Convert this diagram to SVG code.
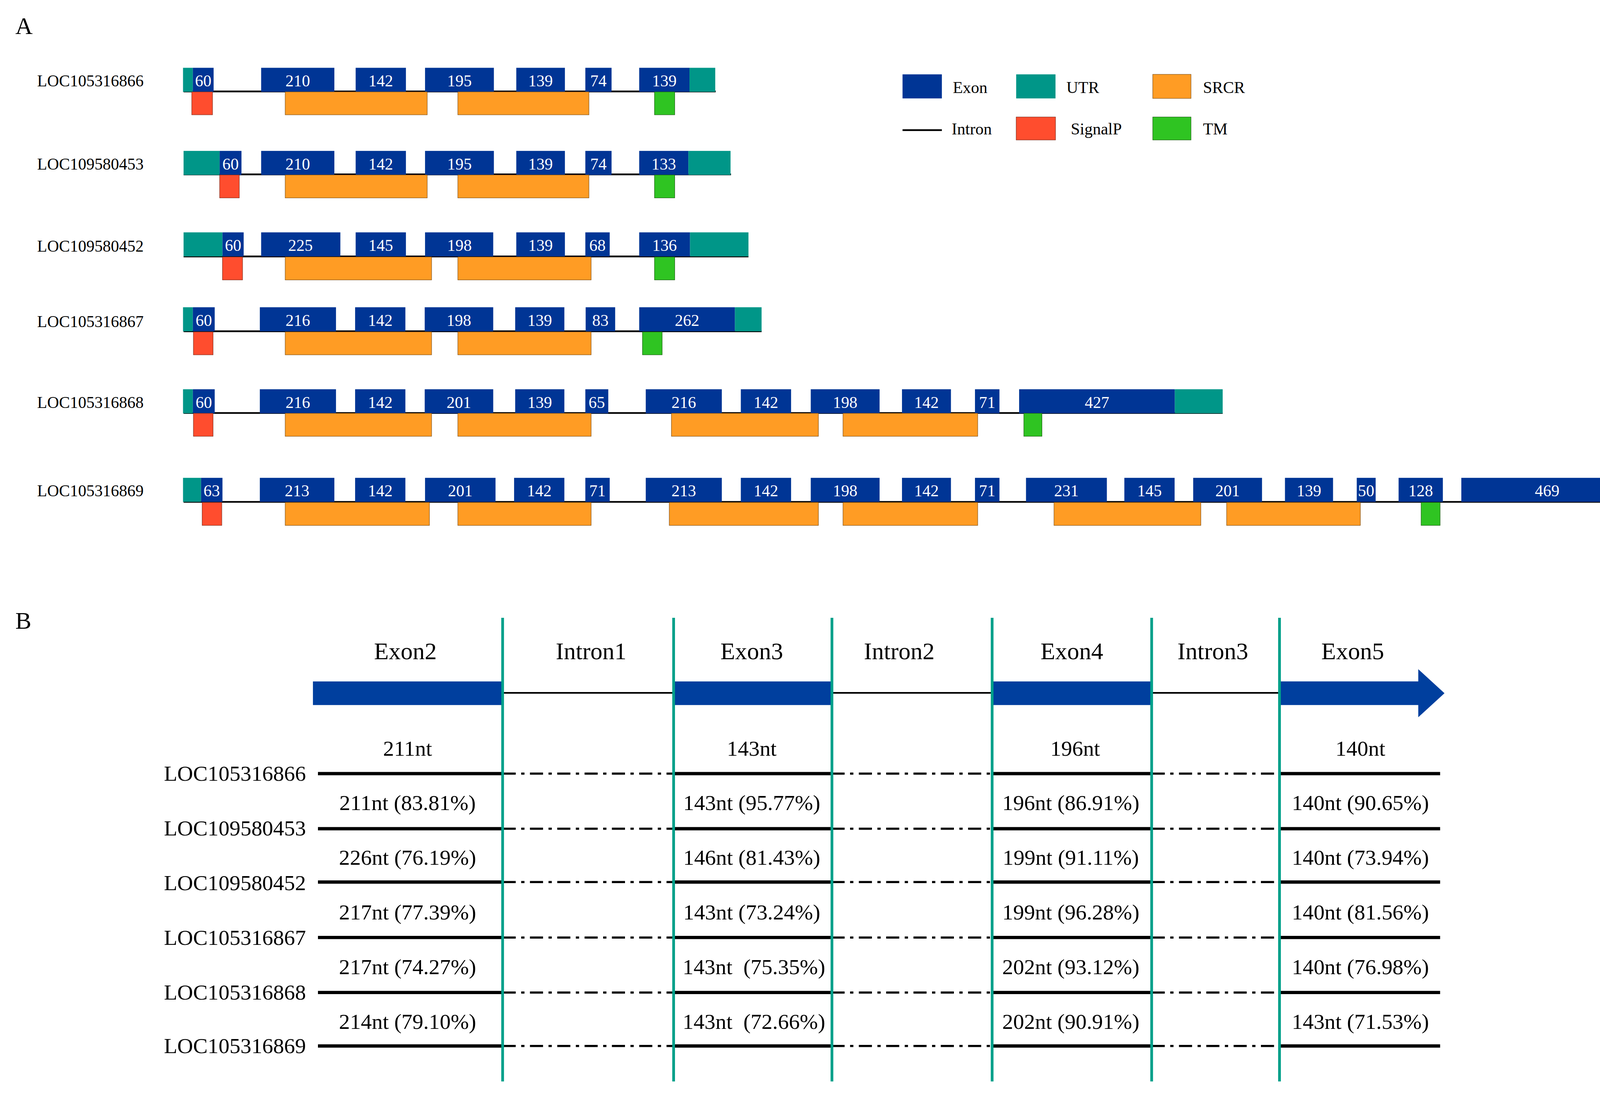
<svg xmlns="http://www.w3.org/2000/svg" width="4386" height="2815" viewBox="0 0 4386 2815">
<style>
text{font-family:"Liberation Serif","Times New Roman",serif;fill:#000}
.ex{fill:#003595}
.ut{fill:#009688}
.sp{fill:#ff4d2e;stroke:#7a2a1a;stroke-width:0.4}
.sr{fill:#ff9c24;stroke:#7a4a10;stroke-width:0.4}
.tm{fill:#2fc422;stroke:#1a5a10;stroke-width:0.4}
.in{stroke:#000;stroke-width:1.6}
.n{fill:#fff;font-size:15px;text-anchor:middle}
.lb{font-size:15px}
.lg{font-size:15px}
.h{font-size:22px;text-anchor:middle}
.p{font-size:20px;text-anchor:middle}
.bl{font-size:20px;text-anchor:end}
.sol{stroke:#000;stroke-width:3}
.dd{stroke:#000;stroke-width:2;stroke-dasharray:12,5,3,5}
.tl{stroke:#00a08a;stroke-width:2.5}
</style>
<rect width="4386" height="2815" fill="#fff"/>
<g transform="scale(2.7972,2.7982)">
<text x="14" y="31" font-size="22">A</text>
<g id="legend">
<rect class="ex" x="826" y="68" width="36" height="22"/><text class="lg" x="872" y="85">Exon</text>
<rect class="ut" x="930" y="68" width="36" height="22"/><text class="lg" x="976" y="85">UTR</text>
<rect class="sr" x="1055" y="68" width="35" height="22"/><text class="lg" x="1101" y="85">SRCR</text>
<line class="in" x1="826" y1="119" x2="862" y2="119"/><text class="lg" x="871" y="123">Intron</text>
<rect class="sp" x="930" y="107" width="36" height="21"/><text class="lg" x="980" y="123">SignalP</text>
<rect class="tm" x="1055" y="107" width="35" height="21"/><text class="lg" x="1101" y="123">TM</text>
</g>
<g id="row1">
<text class="lb" x="34" y="79">LOC105316866</text>
<line class="in" x1="168" y1="83.6" x2="655" y2="83.6"/>
<rect class="ut" x="167.5" y="62" width="9" height="22"/>
<rect class="ex" x="176.5" y="62" width="19" height="22"/><text class="n" x="186" y="79">60</text>
<rect class="ex" x="239" y="62" width="67" height="22"/><text class="n" x="272.5" y="79">210</text>
<rect class="ex" x="325.5" y="62" width="46" height="22"/><text class="n" x="348.5" y="79">142</text>
<rect class="ex" x="389" y="62" width="63" height="22"/><text class="n" x="420.5" y="79">195</text>
<rect class="ex" x="472.5" y="62" width="44.5" height="22"/><text class="n" x="494.7" y="79">139</text>
<rect class="ex" x="535.7" y="62" width="24" height="22"/><text class="n" x="547.7" y="79">74</text>
<rect class="ex" x="585" y="62" width="46" height="22"/><text class="n" x="608" y="79">139</text>
<rect class="ut" x="631" y="62" width="23.6" height="22"/>
<rect class="sp" x="175.5" y="84" width="19" height="21"/>
<rect class="sr" x="261" y="84" width="130" height="21"/>
<rect class="sr" x="419" y="84" width="120" height="21"/>
<rect class="tm" x="599" y="84" width="18.5" height="21"/>
</g>
<g id="row2">
<text class="lb" x="34" y="155">LOC109580453</text>
<line class="in" x1="168" y1="159.5" x2="669" y2="159.5"/>
<rect class="ut" x="168" y="138" width="33" height="22"/>
<rect class="ex" x="201" y="138" width="20" height="22"/><text class="n" x="211" y="155">60</text>
<rect class="ex" x="239" y="138" width="67" height="22"/><text class="n" x="272.5" y="155">210</text>
<rect class="ex" x="325.5" y="138" width="46" height="22"/><text class="n" x="348.5" y="155">142</text>
<rect class="ex" x="389" y="138" width="63" height="22"/><text class="n" x="420.5" y="155">195</text>
<rect class="ex" x="472.5" y="138" width="44.5" height="22"/><text class="n" x="494.7" y="155">139</text>
<rect class="ex" x="535.7" y="138" width="24" height="22"/><text class="n" x="547.7" y="155">74</text>
<rect class="ex" x="585" y="138" width="45" height="22"/><text class="n" x="607.5" y="155">133</text>
<rect class="ut" x="630" y="138" width="38.6" height="22"/>
<rect class="sp" x="201" y="160" width="18" height="21"/>
<rect class="sr" x="261" y="160" width="130" height="21"/>
<rect class="sr" x="419" y="160" width="120" height="21"/>
<rect class="tm" x="599" y="160" width="18.5" height="21"/>
</g>
<g id="row3">
<text class="lb" x="34" y="230">LOC109580452</text>
<line class="in" x1="168" y1="234.5" x2="685" y2="234.5"/>
<rect class="ut" x="168" y="212.5" width="35.6" height="22"/>
<rect class="ex" x="203.6" y="212.5" width="19.4" height="22"/><text class="n" x="213.3" y="229.5">60</text>
<rect class="ex" x="239" y="212.5" width="72.5" height="22"/><text class="n" x="275" y="229.5">225</text>
<rect class="ex" x="325.5" y="212.5" width="46" height="22"/><text class="n" x="348.5" y="229.5">145</text>
<rect class="ex" x="389" y="212.5" width="62.4" height="22"/><text class="n" x="420.5" y="229.5">198</text>
<rect class="ex" x="472.5" y="212.5" width="44.5" height="22"/><text class="n" x="494.7" y="229.5">139</text>
<rect class="ex" x="535.7" y="212.5" width="22.3" height="22"/><text class="n" x="546.8" y="229.5">68</text>
<rect class="ex" x="585" y="212.5" width="46.5" height="22"/><text class="n" x="608.2" y="229.5">136</text>
<rect class="ut" x="631.5" y="212.5" width="53.5" height="22"/>
<rect class="sp" x="203.6" y="235" width="18.4" height="21"/>
<rect class="sr" x="261" y="235" width="134" height="21"/>
<rect class="sr" x="419" y="235" width="122" height="21"/>
<rect class="tm" x="599" y="235" width="18.5" height="21"/>
</g>
<g id="row4">
<text class="lb" x="34" y="299">LOC105316867</text>
<line class="in" x1="168" y1="303" x2="697" y2="303"/>
<rect class="ut" x="167.5" y="281" width="9" height="22"/>
<rect class="ex" x="176.5" y="281" width="20" height="22"/><text class="n" x="186.5" y="298">60</text>
<rect class="ex" x="237.8" y="281" width="69.7" height="22"/><text class="n" x="272.6" y="298">216</text>
<rect class="ex" x="325" y="281" width="46" height="22"/><text class="n" x="348" y="298">142</text>
<rect class="ex" x="388.7" y="281" width="62.7" height="22"/><text class="n" x="420" y="298">198</text>
<rect class="ex" x="471.5" y="281" width="45" height="22"/><text class="n" x="494" y="298">139</text>
<rect class="ex" x="536" y="281" width="27" height="22"/><text class="n" x="549.5" y="298">83</text>
<rect class="ex" x="585" y="281" width="87.6" height="22"/><text class="n" x="628.8" y="298">262</text>
<rect class="ut" x="672.6" y="281" width="24.4" height="22"/>
<rect class="sp" x="177" y="303.5" width="18" height="21"/>
<rect class="sr" x="261" y="303.5" width="134" height="21"/>
<rect class="sr" x="419" y="303.5" width="122" height="21"/>
<rect class="tm" x="588" y="303.5" width="18" height="21"/>
</g>
<g id="row5">
<text class="lb" x="34" y="373">LOC105316868</text>
<line class="in" x1="168" y1="377.7" x2="1119" y2="377.7"/>
<rect class="ut" x="167.5" y="356" width="9" height="22"/>
<rect class="ex" x="176.5" y="356" width="20" height="22"/><text class="n" x="186.5" y="373">60</text>
<rect class="ex" x="237.8" y="356" width="69.7" height="22"/><text class="n" x="272.6" y="373">216</text>
<rect class="ex" x="325" y="356" width="46" height="22"/><text class="n" x="348" y="373">142</text>
<rect class="ex" x="388.7" y="356" width="62.7" height="22"/><text class="n" x="420" y="373">201</text>
<rect class="ex" x="471.5" y="356" width="45" height="22"/><text class="n" x="494" y="373">139</text>
<rect class="ex" x="535.7" y="356" width="21" height="22"/><text class="n" x="546.2" y="373">65</text>
<rect class="ex" x="591" y="356" width="69.6" height="22"/><text class="n" x="625.8" y="373">216</text>
<rect class="ex" x="678" y="356" width="46" height="22"/><text class="n" x="701" y="373">142</text>
<rect class="ex" x="742" y="356" width="63" height="22"/><text class="n" x="773.5" y="373">198</text>
<rect class="ex" x="825.5" y="356" width="44.8" height="22"/><text class="n" x="847.9" y="373">142</text>
<rect class="ex" x="892.3" y="356" width="22.4" height="22"/><text class="n" x="903.5" y="373">71</text>
<rect class="ex" x="932.7" y="356" width="142.5" height="22"/><text class="n" x="1004" y="373">427</text>
<rect class="ut" x="1075.2" y="356" width="43.8" height="22"/>
<rect class="sp" x="177" y="378" width="18" height="21"/>
<rect class="sr" x="261" y="378" width="134" height="21"/>
<rect class="sr" x="419" y="378" width="122" height="21"/>
<rect class="sr" x="614.5" y="378" width="134.5" height="21"/>
<rect class="sr" x="771.5" y="378" width="123.3" height="21"/>
<rect class="tm" x="937" y="378" width="16.6" height="21"/>
</g>
<g id="row6">
<text class="lb" x="34" y="454">LOC105316869</text>
<line class="in" x1="168" y1="459" x2="1555" y2="459"/>
<rect class="ut" x="167.5" y="437" width="16.5" height="22"/>
<rect class="ex" x="184" y="437" width="19.6" height="22"/><text class="n" x="193.8" y="454">63</text>
<rect class="ex" x="237.8" y="437" width="68.2" height="22"/><text class="n" x="271.9" y="454">213</text>
<rect class="ex" x="325" y="437" width="46" height="22"/><text class="n" x="348" y="454">142</text>
<rect class="ex" x="389" y="437" width="64.5" height="22"/><text class="n" x="421.2" y="454">201</text>
<rect class="ex" x="470.5" y="437" width="46" height="22"/><text class="n" x="493.5" y="454">142</text>
<rect class="ex" x="535.7" y="437" width="22.3" height="22"/><text class="n" x="546.8" y="454">71</text>
<rect class="ex" x="591" y="437" width="69.6" height="22"/><text class="n" x="625.8" y="454">213</text>
<rect class="ex" x="678" y="437" width="46" height="22"/><text class="n" x="701" y="454">142</text>
<rect class="ex" x="742" y="437" width="63" height="22"/><text class="n" x="773.5" y="454">198</text>
<rect class="ex" x="825.5" y="437" width="44.8" height="22"/><text class="n" x="847.9" y="454">142</text>
<rect class="ex" x="892.3" y="437" width="22.4" height="22"/><text class="n" x="903.5" y="454">71</text>
<rect class="ex" x="939" y="437" width="74" height="22"/><text class="n" x="976" y="454">231</text>
<rect class="ex" x="1029" y="437" width="46" height="22"/><text class="n" x="1052" y="454">145</text>
<rect class="ex" x="1092" y="437" width="63" height="22"/><text class="n" x="1123.5" y="454">201</text>
<rect class="ex" x="1176" y="437" width="44" height="22"/><text class="n" x="1198" y="454">139</text>
<rect class="ex" x="1241.7" y="437" width="17.3" height="22"/><text class="n" x="1250.3" y="454">50</text>
<rect class="ex" x="1280" y="437" width="40.5" height="22"/><text class="n" x="1300.2" y="454">128</text>
<rect class="ex" x="1337.4" y="437" width="157.1" height="22"/><text class="n" x="1416" y="454">469</text>
<rect class="ut" x="1494.5" y="437" width="60.8" height="22"/>
<rect class="sp" x="185" y="459.5" width="18" height="21"/>
<rect class="sr" x="261" y="459.5" width="132" height="21"/>
<rect class="sr" x="419" y="459.5" width="122" height="21"/>
<rect class="sr" x="612.5" y="459.5" width="136.5" height="21"/>
<rect class="sr" x="771.5" y="459.5" width="123.3" height="21"/>
<rect class="sr" x="964.6" y="459.5" width="134.4" height="21"/>
<rect class="sr" x="1122.6" y="459.5" width="122.4" height="21"/>
<rect class="tm" x="1300.6" y="459.5" width="17.4" height="21"/>
</g>
<text x="14" y="575" font-size="22">B</text>
<g id="headerB">
<text class="h" x="371" y="603">Exon2</text>
<text class="h" x="541" y="603">Intron1</text>
<text class="h" x="688" y="603">Exon3</text>
<text class="h" x="823" y="603">Intron2</text>
<text class="h" x="981" y="603">Exon4</text>
<text class="h" x="1110" y="603">Intron3</text>
<text class="h" x="1238" y="603">Exon5</text>
<line x1="460" y1="633.7" x2="1172" y2="633.7" stroke="#000" stroke-width="1.5"/>
<rect x="286.4" y="623.2" width="173.6" height="21.6" fill="#003f9e"/>
<rect x="616.5" y="623.2" width="144.9" height="21.6" fill="#003f9e"/>
<rect x="908" y="623.2" width="146" height="21.6" fill="#003f9e"/>
<polygon points="1171,623.2 1298,623.2 1298,612 1322,634 1298,656 1298,644.8 1171,644.8" fill="#003f9e"/>
</g>
<g id="tracks">
<text class="p" x="373" y="691">211nt</text>
<text class="p" x="688" y="691">143nt</text>
<text class="p" x="984" y="691">196nt</text>
<text class="p" x="1245" y="691">140nt</text>
<text class="bl" x="280" y="714">LOC105316866</text>
<text class="bl" x="280" y="764">LOC109580453</text>
<text class="bl" x="280" y="814">LOC109580452</text>
<text class="bl" x="280" y="864">LOC105316867</text>
<text class="bl" x="280" y="914">LOC105316868</text>
<text class="bl" x="280" y="963">LOC105316869</text>
<text class="p" x="373" y="741">211nt (83.81%)</text>
<text class="p" x="688" y="741">143nt (95.77%)</text>
<text class="p" x="980" y="741">196nt (86.91%)</text>
<text class="p" x="1245" y="741">140nt (90.65%)</text>
<text class="p" x="373" y="791">226nt (76.19%)</text>
<text class="p" x="688" y="791">146nt (81.43%)</text>
<text class="p" x="980" y="791">199nt (91.11%)</text>
<text class="p" x="1245" y="791">140nt (73.94%)</text>
<text class="p" x="373" y="841">217nt (77.39%)</text>
<text class="p" x="688" y="841">143nt (73.24%)</text>
<text class="p" x="980" y="841">199nt (96.28%)</text>
<text class="p" x="1245" y="841">140nt (81.56%)</text>
<text class="p" x="373" y="891">217nt (74.27%)</text>
<text class="p" x="690" y="891" xml:space="preserve">143nt  (75.35%)</text>
<text class="p" x="980" y="891">202nt (93.12%)</text>
<text class="p" x="1245" y="891">140nt (76.98%)</text>
<text class="p" x="373" y="941">214nt (79.10%)</text>
<text class="p" x="690" y="941" xml:space="preserve">143nt  (72.66%)</text>
<text class="p" x="980" y="941">202nt (90.91%)</text>
<text class="p" x="1245" y="941">143nt (71.53%)</text>
</g>
<g id="connectors">
<g id="L1"><line class="sol" x1="291" y1="707.5" x2="460" y2="707.5"/><line class="dd" x1="460" y1="707.5" x2="616" y2="707.5"/><line class="sol" x1="616" y1="707.5" x2="761" y2="707.5"/><line class="dd" x1="761" y1="707.5" x2="908" y2="707.5"/><line class="sol" x1="908" y1="707.5" x2="1054" y2="707.5"/><line class="dd" x1="1054" y1="707.5" x2="1171" y2="707.5"/><line class="sol" x1="1171" y1="707.5" x2="1318" y2="707.5"/></g>
<g id="L2"><line class="sol" x1="291" y1="757.9" x2="460" y2="757.9"/><line class="dd" x1="460" y1="757.9" x2="616" y2="757.9"/><line class="sol" x1="616" y1="757.9" x2="761" y2="757.9"/><line class="dd" x1="761" y1="757.9" x2="908" y2="757.9"/><line class="sol" x1="908" y1="757.9" x2="1054" y2="757.9"/><line class="dd" x1="1054" y1="757.9" x2="1171" y2="757.9"/><line class="sol" x1="1171" y1="757.9" x2="1318" y2="757.9"/></g>
<g id="L3"><line class="sol" x1="291" y1="806.7" x2="460" y2="806.7"/><line class="dd" x1="460" y1="806.7" x2="616" y2="806.7"/><line class="sol" x1="616" y1="806.7" x2="761" y2="806.7"/><line class="dd" x1="761" y1="806.7" x2="908" y2="806.7"/><line class="sol" x1="908" y1="806.7" x2="1054" y2="806.7"/><line class="dd" x1="1054" y1="806.7" x2="1171" y2="806.7"/><line class="sol" x1="1171" y1="806.7" x2="1318" y2="806.7"/></g>
<g id="L4"><line class="sol" x1="291" y1="857.4" x2="460" y2="857.4"/><line class="dd" x1="460" y1="857.4" x2="616" y2="857.4"/><line class="sol" x1="616" y1="857.4" x2="761" y2="857.4"/><line class="dd" x1="761" y1="857.4" x2="908" y2="857.4"/><line class="sol" x1="908" y1="857.4" x2="1054" y2="857.4"/><line class="dd" x1="1054" y1="857.4" x2="1171" y2="857.4"/><line class="sol" x1="1171" y1="857.4" x2="1318" y2="857.4"/></g>
<g id="L5"><line class="sol" x1="291" y1="907.7" x2="460" y2="907.7"/><line class="dd" x1="460" y1="907.7" x2="616" y2="907.7"/><line class="sol" x1="616" y1="907.7" x2="761" y2="907.7"/><line class="dd" x1="761" y1="907.7" x2="908" y2="907.7"/><line class="sol" x1="908" y1="907.7" x2="1054" y2="907.7"/><line class="dd" x1="1054" y1="907.7" x2="1171" y2="907.7"/><line class="sol" x1="1171" y1="907.7" x2="1318" y2="907.7"/></g>
<g id="L6"><line class="sol" x1="291" y1="956.6" x2="460" y2="956.6"/><line class="dd" x1="460" y1="956.6" x2="616" y2="956.6"/><line class="sol" x1="616" y1="956.6" x2="761" y2="956.6"/><line class="dd" x1="761" y1="956.6" x2="908" y2="956.6"/><line class="sol" x1="908" y1="956.6" x2="1054" y2="956.6"/><line class="dd" x1="1054" y1="956.6" x2="1171" y2="956.6"/><line class="sol" x1="1171" y1="956.6" x2="1318" y2="956.6"/></g>
<line class="tl" x1="460" y1="565" x2="460" y2="989"/>
<line class="tl" x1="616.5" y1="565" x2="616.5" y2="989"/>
<line class="tl" x1="761.4" y1="565" x2="761.4" y2="989"/>
<line class="tl" x1="908" y1="565" x2="908" y2="989"/>
<line class="tl" x1="1054" y1="565" x2="1054" y2="989"/>
<line class="tl" x1="1171" y1="565" x2="1171" y2="989"/>
</g>
</g>
</svg>
